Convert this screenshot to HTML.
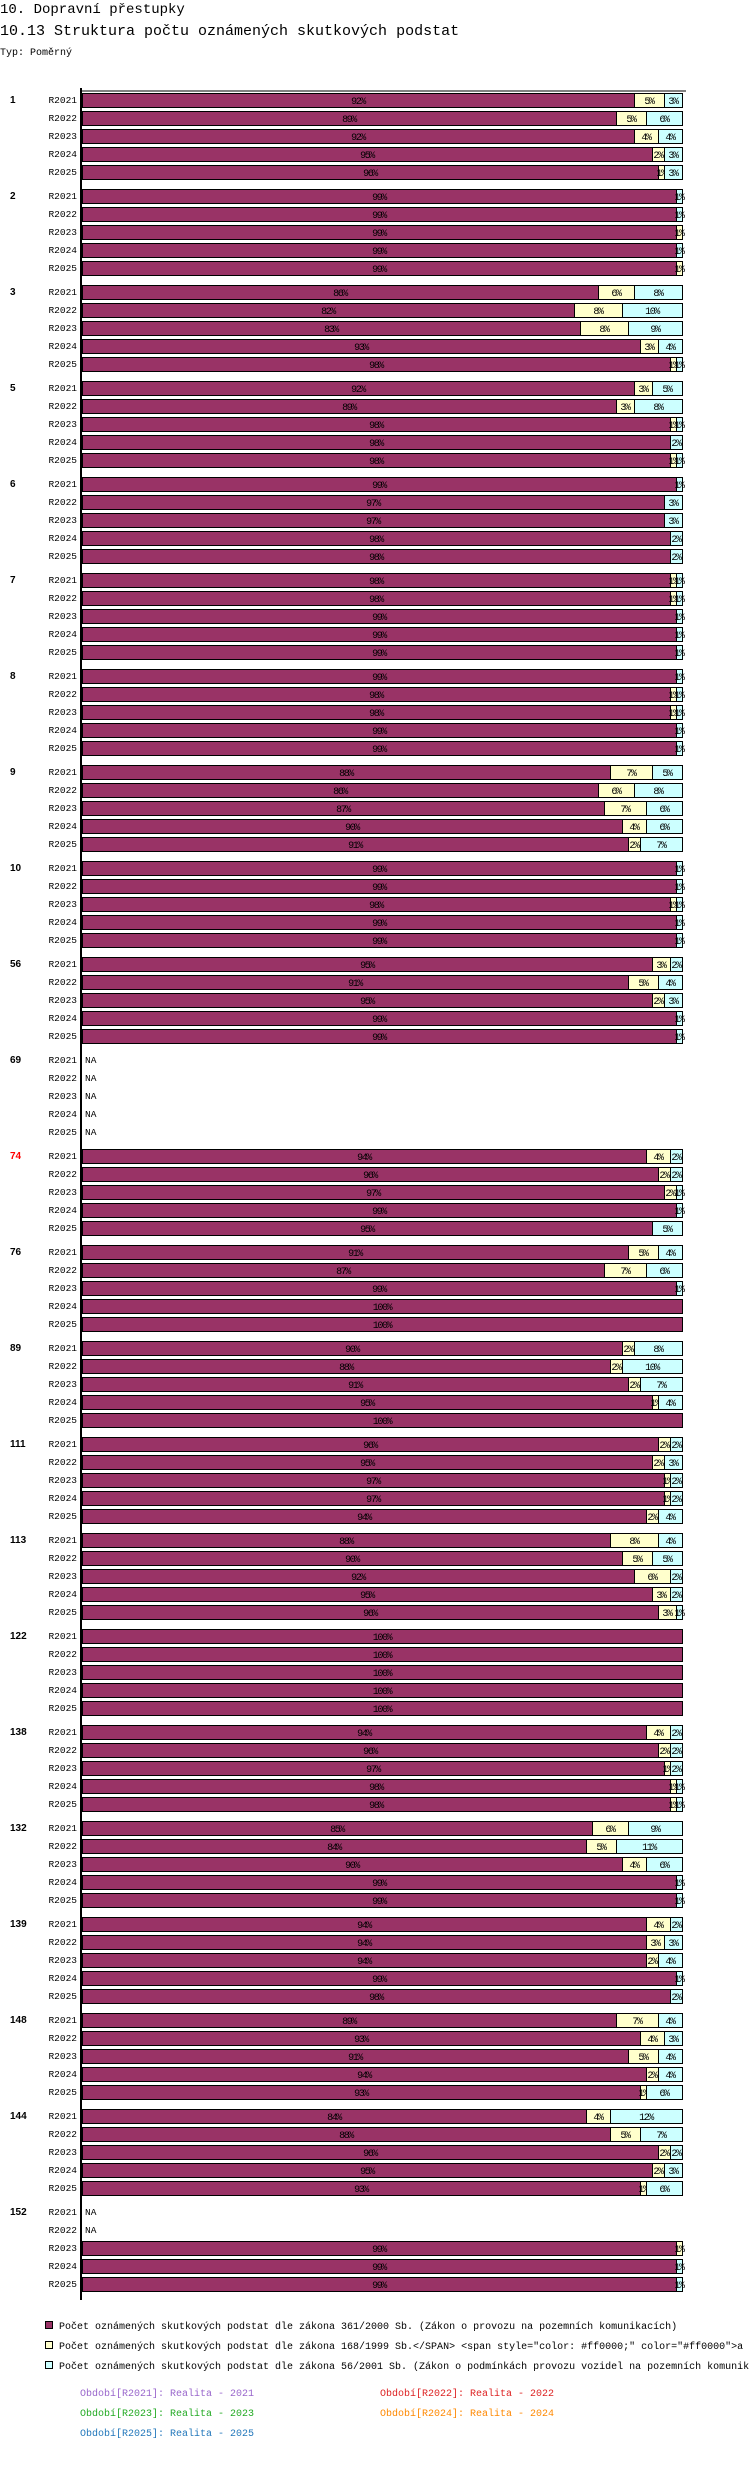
<!DOCTYPE html>
<html><head><meta charset="utf-8"><style>
body{margin:0;background:#fff;width:750px;height:2490px;overflow:hidden;font-family:"Liberation Mono",monospace}
svg{display:block}
</style></head><body>
<svg id="chart" width="750" height="2490" xmlns="http://www.w3.org/2000/svg" font-family="Liberation Mono, monospace">
<text x="0" y="13" font-size="14">10. Dopravní přestupky</text>
<text x="0" y="35" font-size="15">10.13 Struktura počtu oznámených skutkových podstat</text>
<text x="0" y="55" font-size="10">Typ: Poměrný</text>
<g id="bars"></g>
<g>
<rect x="45.5" y="2321.5" width="7" height="7" fill="#993366" stroke="#000"/>
<text x="59" y="2329" font-size="10">Počet oznámených skutkových podstat dle zákona 361/2000 Sb. (Zákon o provozu na pozemních komunikacích)</text>
<rect x="45.5" y="2341.5" width="7" height="7" fill="#ffffcc" stroke="#000"/>
<text x="59" y="2349" font-size="10">Počet oznámených skutkových podstat dle zákona 168/1999 Sb.&lt;/SPAN&gt; &lt;span style="color: #ff0000;" color="#ff0000"&gt;a</text>
<rect x="45.5" y="2361.5" width="7" height="7" fill="#ccffff" stroke="#000"/>
<text x="59" y="2369" font-size="10">Počet oznámených skutkových podstat dle zákona 56/2001 Sb. (Zákon o podmínkách provozu vozidel na pozemních komunik</text>
<text x="80" y="2396" font-size="10" fill="#9966cc">Období[R2021]: Realita - 2021</text>
<text x="380" y="2396" font-size="10" fill="#dd2222">Období[R2022]: Realita - 2022</text>
<text x="80" y="2416" font-size="10" fill="#22aa22">Období[R2023]: Realita - 2023</text>
<text x="380" y="2416" font-size="10" fill="#ff8800">Období[R2024]: Realita - 2024</text>
<text x="80" y="2436" font-size="10" fill="#2277bb">Období[R2025]: Realita - 2025</text>
</g>
</svg>
<script>
const groups=["1","2","3","5","6","7","8","9","10","56","69","74","76","89","111","113","122","138","132","139","148","144","152"];
const years=["R2021","R2022","R2023","R2024","R2025"];
const seriesA=[[92,89,92,95,96],[99,99,99,99,99],[86,82,83,93,98],[92,89,98,98,98],[99,97,97,98,98],[98,98,99,99,99],[99,98,98,99,99],[88,86,87,90,91],[99,99,98,99,99],[95,91,95,99,99],[null,null,null,null,null],[94,96,97,99,95],[91,87,99,100,100],[90,88,91,95,100],[96,95,97,97,94],[88,90,92,95,96],[100,100,100,100,100],[94,96,97,98,98],[85,84,90,99,99],[94,94,94,99,98],[89,93,91,94,93],[84,88,96,95,93],[null,null,99,99,99]];
const seriesB=[[5,5,4,2,1],[0,0,1,0,1],[6,8,8,3,1],[3,3,1,0,1],[0,0,0,0,0],[1,1,0,0,0],[0,1,1,0,0],[7,6,7,4,2],[0,0,1,0,0],[3,5,2,0,0],[null,null,null,null,null],[4,2,2,0,0],[5,7,0,0,0],[2,2,2,1,0],[2,2,1,1,2],[8,5,6,3,3],[0,0,0,0,0],[4,2,1,1,1],[6,5,4,0,0],[4,3,2,0,0],[7,4,5,2,1],[4,5,2,2,1],[null,null,1,0,0]];
const seriesC=[[3,6,4,3,3],[1,1,0,1,0],[8,10,9,4,1],[5,8,1,2,1],[1,3,3,2,2],[1,1,1,1,1],[1,1,1,1,1],[5,8,6,6,7],[1,1,1,1,1],[2,4,3,1,1],[null,null,null,null,null],[2,2,1,1,5],[4,6,1,0,0],[8,10,7,4,0],[2,3,2,2,4],[4,5,2,2,1],[0,0,0,0,0],[2,2,2,1,1],[9,11,6,1,1],[2,3,4,1,2],[4,3,4,4,6],[12,7,2,3,6],[null,null,0,1,1]];
const colors=["#993366","#ffffcc","#ccffff"];
const X0=82,W=600,GP=96,RP=18,Y0=93,BH=14;
const xs=v=>v/100*W;
const NS="http://www.w3.org/2000/svg";
const g=document.getElementById('bars');
function mk(t,a){const e=document.createElementNS(NS,t);for(const k in a)e.setAttribute(k,a[k]);return e;}
const axisV=mk('line',{x1:81,y1:88,x2:81,y2:2300,stroke:'#000','stroke-width':2});


g.appendChild(axisV);
const axisH=mk('line',{x1:80,y1:91,x2:686,y2:91,stroke:'#000','stroke-width':1});


g.appendChild(axisH);
groups.forEach((gn,gi)=>{
  const gy=Y0+gi*GP;
  const gl=mk('text',{x:10,y:gy+10,'font-size':10,'font-weight':'bold',fill:gn==="74"?'#ff0000':'#000','font-family':'Liberation Sans, sans-serif'});
  
  
  gl.textContent=gn;g.appendChild(gl);
  years.forEach((yr,ri)=>{
    const y=gy+ri*RP;
    const rl=mk('text',{x:77,y:y+10,'font-size':9.5,'text-anchor':'end'});
    
    
    rl.textContent=yr;g.appendChild(rl);
    const vals=[seriesA[gi][ri],seriesB[gi][ri],seriesC[gi][ri]];
    if(vals[0]===null){
      const na=mk('text',{x:85,y:y+10,'font-size':9.5});
      
      
      na.textContent='NA';g.appendChild(na);return;
    }
    let cx=X0;
    vals.forEach((v,si)=>{
      if(!v)return;
      const w=xs(v);
      const r=mk('rect',{x:cx+0.5,y:y+0.5,width:w,height:BH,fill:colors[si],stroke:'#000'});
      
      
      g.appendChild(r);
      const t=mk('text',{x:cx+w/2,y:y+11,'font-size':10,'text-anchor':'middle','letter-spacing':'-1.4'});
      
      
      t.textContent=v+'%';g.appendChild(t);
      cx+=w;
    });
  });
});
</script>
</body></html>
